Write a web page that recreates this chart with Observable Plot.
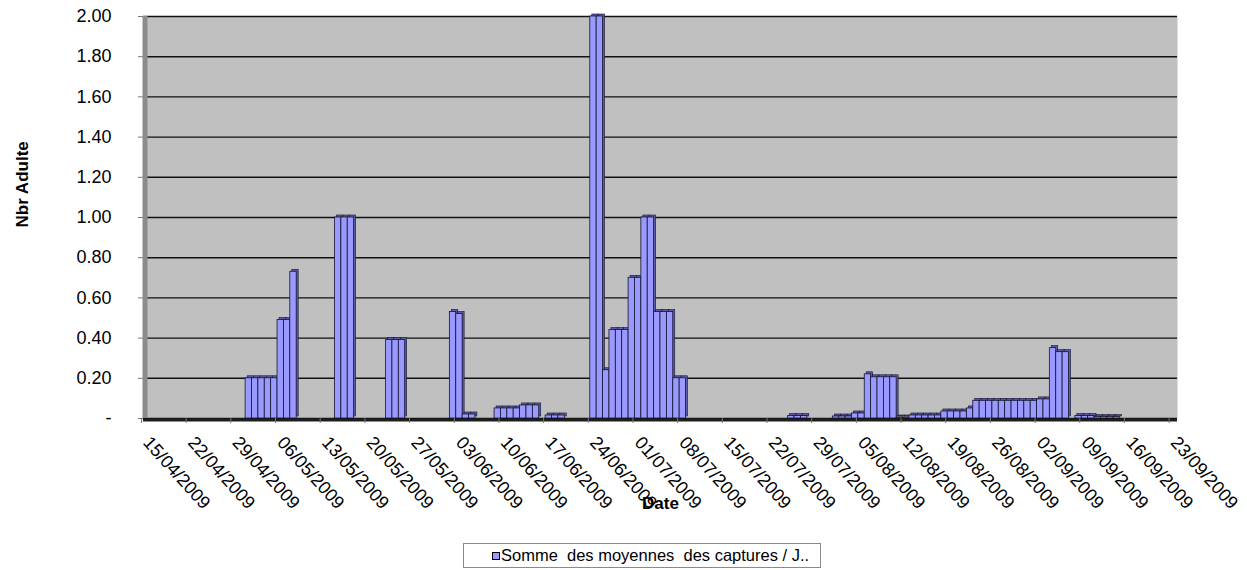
<!DOCTYPE html>
<html><head><meta charset="utf-8">
<script src="https://cdn.jsdelivr.net/npm/d3@7"></script>
<script src="https://cdn.jsdelivr.net/npm/@observablehq/plot@0.6"></script>
<style>
body{margin:0;background:#fff;font-family:"Liberation Sans",Arial,sans-serif;}
#wrap{position:relative;width:1247px;height:570px;overflow:hidden;}
#legend{position:absolute;left:463px;top:543px;width:358px;height:25px;border:1px solid #8a8a8a;box-sizing:border-box;
  font-size:16.5px;line-height:23px;white-space:pre;padding-left:28px;color:#000;}
#legend .key{display:inline-block;width:6px;height:6px;background:#9999FF;border:1px solid #000;margin-right:1px;vertical-align:1px;}
</style></head><body><div id="wrap"></div>
<script>
// first day of the daily series
const startDay = "15/04/2009";
// daily values, 15/04/2009 .. 23/09/2009
const values = [
  0,0,0,0,0,0,0,0,0,0,0,0,0,0,0,0,            // 15/04 - 30/04
  0.2,0.2,0.2,0.2,0.2,                         // 01/05 - 05/05
  0.49,0.49,0.73,                              // 06/05 - 08/05
  0,0,0,0,0,0,                                 // 09/05 - 14/05
  1.0,1.0,1.0,                                 // 15/05 - 17/05
  0,0,0,0,0,                                   // 18/05 - 22/05
  0.39,0.39,0.39,                              // 23/05 - 25/05
  0,0,0,0,0,0,0,                               // 26/05 - 01/06
  0.53,0.52,0.02,0.02,                         // 02/06 - 05/06
  0,0,0,                                       // 06/06 - 08/06
  0.05,0.05,0.05,0.05,0.065,0.065,0.065,       // 09/06 - 15/06
  0,0.015,0.015,0.015,                         // 16/06 - 19/06
  0,0,0,0,                                     // 20/06 - 23/06
  2.0,2.0,0.24,0.44,0.44,0.44,0.70,0.70,       // 24/06 - 01/07
  1.0,1.0,0.53,0.53,0.53,0.2,0.2,              // 02/07 - 08/07
  0,0,0,0,0,0,0,0,0,0,0,0,0,0,0,0,             // 09/07 - 24/07
  0.012,0.012,0.012,                           // 25/07 - 27/07
  0,0,0,0,                                     // 28/07 - 31/07
  0.01,0.01,0.01,0.025,0.025,                  // 01/08 - 05/08
  0.22,0.205,0.205,0.205,0.205,                // 06/08 - 10/08
  0.005,0.005,                                 // 11/08 - 12/08
  0.015,0.015,0.015,0.015,0.015,               // 13/08 - 17/08
  0.035,0.035,0.035,0.035,0.05,                // 18/08 - 22/08
  0.088,0.088,0.088,0.088,0.088,0.088,0.088,0.088,0.088,0.088, // 23/08 - 01/09
  0.095,0.095,0.35,0.33,0.33,                  // 02/09 - 06/09
  0,0.012,0.012,0.012,                         // 07/09 - 10/09
  0.007,0.007,0.007,0.007,                     // 11/09 - 14/09
  0,0,0,0,0,0,0,0,0                            // 15/09 - 23/09
];
const tickLabels = ["15/04/2009","22/04/2009","29/04/2009","06/05/2009","13/05/2009","20/05/2009",
  "27/05/2009","03/06/2009","10/06/2009","17/06/2009","24/06/2009","01/07/2009","08/07/2009",
  "15/07/2009","22/07/2009","29/07/2009","05/08/2009","12/08/2009","19/08/2009","26/08/2009",
  "02/09/2009","09/09/2009","16/09/2009","23/09/2009"];
const yTicks = [0,0.2,0.4,0.6,0.8,1.0,1.2,1.4,1.6,1.8,2.0];
const yTitle = "Nbr Adulte";
const xTitle = "Date";
const seriesName = "Somme  des moyennes  des captures / J..";

const parse = d3.utcParse("%d/%m/%Y");
const start = parse(startDay);
const data = values.map((v, i) => ({
  date: d3.utcDay.offset(start, i),
  next: d3.utcDay.offset(start, i + 1),
  value: v
}));
const end = d3.utcDay.offset(start, values.length);
const tickDates = tickLabels.map(parse);

const chart = Plot.plot({
  width: 1247, height: 540,
  marginLeft: 143, marginRight: 70, marginTop: 16, marginBottom: 122,
  style: {fontFamily: "'Liberation Sans', Arial, sans-serif", fontSize: "17px", background: "transparent", color: "#000"},
  x: {type: "utc", domain: [start, end]},
  y: {domain: [0, 2]},
  marks: [
    Plot.frame({fill: "#C0C0C0", stroke: null}),
    Plot.gridY(yTicks, {stroke: "#111", strokeOpacity: 1, strokeWidth: 1.4}),
    Plot.ruleX([start], {stroke: "#8c8c8c", strokeWidth: 5, dx: 1.5}),
    Plot.ruleY([0], {stroke: "#1e1e1e", strokeWidth: 3, dy: 1.5}),
    Plot.rectY(data, {x1: "date", x2: "next", y: "value", fill: "#5a5aa6", stroke: "#15152e", strokeWidth: 0.6, dx: 2, dy: -2}),
    Plot.rectY(data, {x1: "date", x2: "next", y: "value", fill: "#9999FF", stroke: "#15152e", strokeWidth: 0.8}),
    Plot.axisY({ticks: yTicks, tickFormat: d => d === 0 ? "-" : d.toFixed(2), tickSize: 5, tickPadding: 27, stroke: "#777", label: null, fontSize: 18}),
    Plot.axisX({ticks: tickDates, tickFormat: () => "", tickSize: 5, stroke: "#777", label: null, dx: -2}),
    Plot.axisX({ticks: tickDates, tickFormat: "%d/%m/%Y", tickRotate: 48, tickSize: 0, tickPadding: 21, label: null, dx: 3, fontSize: 18}),
    Plot.text([yTitle], {frameAnchor: "left", rotate: -90, dx: -121, dy: 10, fontWeight: "bold", fontSize: 17}),
    Plot.text([xTitle], {frameAnchor: "bottom", dy: 90, fontWeight: "bold", fontSize: 17})
  ]
});
const wrap = document.getElementById("wrap");
wrap.appendChild(chart);
const legend = document.createElement("div");
legend.id = "legend";
const key = document.createElement("span");
key.className = "key";
legend.appendChild(key);
legend.appendChild(document.createTextNode(seriesName));
wrap.appendChild(legend);
</script>
</body></html>
